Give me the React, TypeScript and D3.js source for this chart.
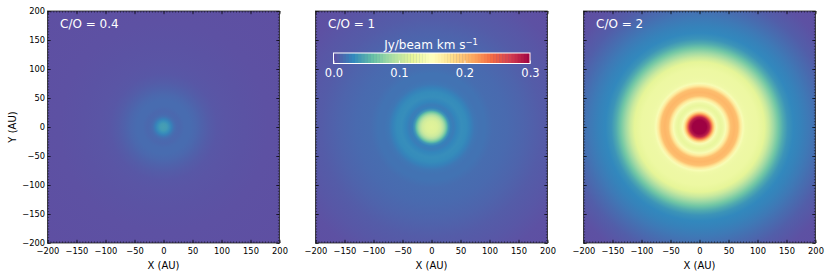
import React, { useEffect, useRef } from "react";
import * as d3 from "d3";

// radial profiles: radius in AU, intensity in Jy/beam km/s
const radiiLow = [0, 6, 10, 14, 18, 22, 28, 36, 46, 56, 66, 78, 92, 110, 140, 180, 283];
const valuesLow = [0.042, 0.04, 0.034, 0.026, 0.018, 0.014, 0.013, 0.015, 0.015, 0.013, 0.01, 0.007, 0.004, 0.003, 0.002, 0.001, 0];

const radiiMid = [0, 10, 16, 20, 23, 26, 29, 33, 38, 44, 52, 60, 67, 74, 82, 92, 105, 130, 160, 190, 220, 250, 283];
const valuesMid = [0.118, 0.115, 0.108, 0.095, 0.08, 0.06, 0.04, 0.027, 0.024, 0.029, 0.033, 0.032, 0.027, 0.021, 0.019, 0.019, 0.016, 0.014, 0.011, 0.007, 0.004, 0.001, 0];

const radiiHigh = [0, 12, 17, 20, 23, 26, 29, 33, 37, 41, 45, 49, 54, 60, 66, 71, 75, 79, 85, 100, 112, 120, 128, 136, 144, 152, 162, 174, 188, 204, 225, 255, 283];
const valuesHigh = [0.3, 0.3, 0.285, 0.25, 0.21, 0.175, 0.142, 0.13, 0.124, 0.13, 0.142, 0.17, 0.2, 0.205, 0.2, 0.17, 0.142, 0.132, 0.13, 0.128, 0.12, 0.105, 0.085, 0.065, 0.048, 0.036, 0.03, 0.027, 0.022, 0.016, 0.008, 0.001, 0];

const panelLabels = ["C/O = 0.4", "C/O = 1", "C/O = 2"];
const panelLefts = [47.5, 315.5, 583.5];
const profiles = [
  { radii: radiiLow, values: valuesLow },
  { radii: radiiMid, values: valuesMid },
  { radii: radiiHigh, values: valuesHigh },
];

const majorTicks = [-200, -150, -100, -50, 0, 50, 100, 150, 200];
const minorTicks = d3.range(-200, 201, 5);
const colorbarTicks = [0, 0.1, 0.2, 0.3];

const size = 232;
const top = 11;
const rMax = 283;
const font = "'DejaVu Sans', sans-serif";

// matplotlib Spectral_r
const spectral = [...d3.schemeSpectral[11]].reverse();
const color = d3
  .scaleLinear<string>()
  .domain(d3.range(11).map((i) => (i / 10) * 0.3))
  .range(spectral)
  .interpolate(d3.interpolateRgb);

export default function App() {
  const svgRef = useRef<SVGSVGElement>(null);

  useEffect(() => {
    const svg = d3.select(svgRef.current);
    svg.selectAll("*").remove();
    const defs = svg.append("defs");

    panelLefts.forEach((left, i) => {
      const x = d3.scaleLinear().domain([-200, 200]).range([left, left + size]);
      const y = d3.scaleLinear().domain([-200, 200]).range([top + size, top]);
      const { radii, values } = profiles[i];

      //radial map as a gradient built from the profile
      const grad = defs
        .append("radialGradient")
        .attr("id", `map${i}`)
        .attr("gradientUnits", "userSpaceOnUse")
        .attr("cx", x(0))
        .attr("cy", y(0))
        .attr("r", x(rMax) - x(0));
      grad
        .selectAll("stop")
        .data(radii)
        .join("stop")
        .attr("offset", (r) => r / rMax)
        .attr("stop-color", (r, k) => color(values[k]));

      svg
        .append("rect")
        .attr("x", left)
        .attr("y", top)
        .attr("width", size)
        .attr("height", size)
        .attr("fill", `url(#map${i})`);

      //axes, ticks point inward on all four sides
      const drawAxis = (axis: any, tx: number, ty: number, labels: boolean, pad: number) => {
        const g = svg.append("g").attr("transform", `translate(${tx},${ty})`);
        g.call(axis.tickValues(minorTicks).tickSize(-1.6).tickFormat(() => ""));
        g.selectAll(".tick line").attr("stroke", "#000").attr("stroke-width", 0.5);
        g.select(".domain").remove();
        const g2 = svg.append("g").attr("transform", `translate(${tx},${ty})`);
        g2.call(
          axis
            .tickValues(majorTicks)
            .tickSize(-3.2)
            .tickPadding(pad)
            .tickFormat(labels ? (d: number) => d3.format("d")(d) : () => "")
        );
        g2.select(".domain").remove();
        g2.selectAll(".tick line").attr("stroke", "#000").attr("stroke-width", 0.7);
        g2.selectAll("text").attr("font-family", font).attr("font-size", 8.3).attr("fill", "#000");
      };
      drawAxis(d3.axisBottom(x), 0, top + size, true, 5);
      drawAxis(d3.axisTop(x), 0, top, false, 5);
      drawAxis(d3.axisLeft(y), left, 0, i === 0, 2.5);
      drawAxis(d3.axisRight(y), left + size, 0, false, 2.5);

      svg
        .append("rect")
        .attr("x", left)
        .attr("y", top)
        .attr("width", size)
        .attr("height", size)
        .attr("fill", "none")
        .attr("stroke", "#222")
        .attr("stroke-width", 0.8);

      svg
        .append("text")
        .attr("x", left + 12.5)
        .attr("y", 27.5)
        .attr("font-family", font)
        .attr("font-size", 12)
        .attr("fill", "#fff")
        .text(panelLabels[i]);

      svg
        .append("text")
        .attr("x", left + size / 2)
        .attr("y", 268.5)
        .attr("text-anchor", "middle")
        .attr("font-family", font)
        .attr("font-size", 10)
        .text("X (AU)");
    });

    svg
      .append("text")
      .attr("transform", `translate(15.5,${top + size / 2}) rotate(-90)`)
      .attr("text-anchor", "middle")
      .attr("font-family", font)
      .attr("font-size", 10)
      .text("Y (AU)");

    //colorbar
    const cx = d3.scaleLinear().domain([0, 0.3]).range([333.5, 530]);
    const cy = 53;
    const ch = 10.5;
    const bands = d3.range(64).map((i) => (i / 64) * 0.3);
    svg
      .append("g")
      .selectAll("rect")
      .data(bands)
      .join("rect")
      .attr("x", (d) => cx(d))
      .attr("y", cy)
      .attr("width", (cx(0.3) - cx(0)) / 64 + 0.3)
      .attr("height", ch)
      .attr("fill", (d) => color(d + 0.3 / 128));
    svg
      .append("rect")
      .attr("x", cx(0))
      .attr("y", cy)
      .attr("width", cx(0.3) - cx(0))
      .attr("height", ch)
      .attr("fill", "none")
      .attr("stroke", "#fff")
      .attr("stroke-width", 1);
    const cb = svg.append("g").attr("transform", `translate(0,${cy + ch})`);
    cb.call(
      d3
        .axisBottom(cx)
        .tickValues(colorbarTicks)
        .tickSize(-3)
        .tickPadding(5.5)
        .tickFormat(d3.format(".1f") as any)
    );
    cb.select(".domain").remove();
    cb.selectAll(".tick line").attr("stroke", "#fff").attr("stroke-width", 0.7);
    cb.selectAll("text").attr("font-family", font).attr("font-size", 11.5).attr("fill", "#fff");

    const title = svg
      .append("text")
      .attr("x", 431)
      .attr("y", 49)
      .attr("text-anchor", "middle")
      .attr("font-family", font)
      .attr("font-size", 12)
      .attr("fill", "#fff")
      .text("Jy/beam km s");
    title.append("tspan").attr("dy", -4.5).attr("font-size", 8.4).text("−1");
  }, []);

  return (
    <svg
      ref={svgRef}
      width={830}
      height={278}
      style={{ position: "absolute", left: 0, top: 0, background: "#fff" }}
    />
  );
}
